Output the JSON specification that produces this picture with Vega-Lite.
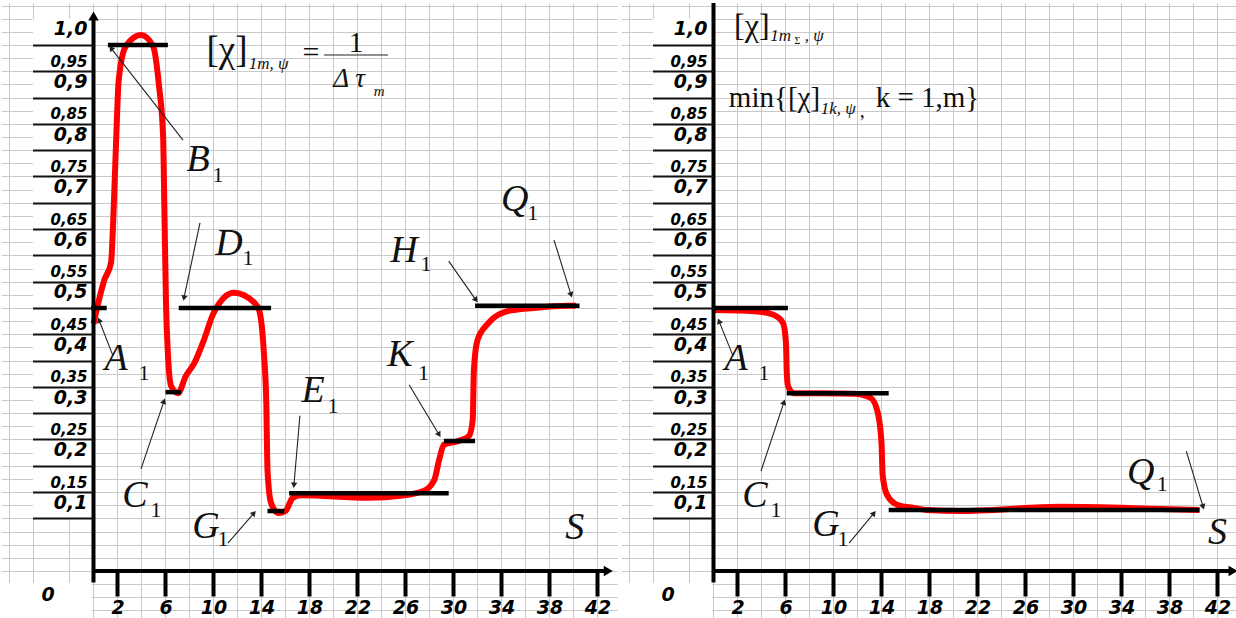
{
"$schema": "https://vega.github.io/schema/vega-lite/v6.json",
"background": "white",
"padding": 0,
"spacing": 4,
"bounds": "flush",
"config": {"view": {"stroke": null}},
"datasets": {
"curve": [
{"p":"L","x":0,"y":0.47},{"p":"L","x":0.9,"y":0.553},{"p":"L","x":1.46,"y":0.586},{"p":"L","x":1.7,"y":0.7},{"p":"L","x":1.9,"y":0.827},{"p":"L","x":2.1,"y":0.933},{"p":"L","x":2.7,"y":0.998},{"p":"L","x":3.96,"y":1.019},{"p":"L","x":4.96,"y":0.998},{"p":"L","x":5.46,"y":0.922},{"p":"L","x":5.8,"y":0.827},{"p":"L","x":5.9,"y":0.7},{"p":"L","x":6.04,"y":0.51},{"p":"L","x":6.2,"y":0.414},{"p":"L","x":6.46,"y":0.352},{"p":"L","x":7.04,"y":0.338},{"p":"L","x":7.7,"y":0.371},{"p":"L","x":8.4,"y":0.395},{"p":"L","x":9.2,"y":0.439},{"p":"L","x":10.0,"y":0.49},{"p":"L","x":11.7,"y":0.529},{"p":"L","x":13.4,"y":0.51},{"p":"L","x":13.8,"y":0.496},{"p":"L","x":14.2,"y":0.414},{"p":"L","x":14.4,"y":0.319},{"p":"L","x":14.5,"y":0.192},{"p":"L","x":14.8,"y":0.129},{"p":"L","x":15.4,"y":0.11},{"p":"L","x":16.0,"y":0.114},{"p":"L","x":16.6,"y":0.139},{"p":"L","x":17.3,"y":0.144},{"p":"L","x":22.9,"y":0.139},{"p":"L","x":25.6,"y":0.143},{"p":"L","x":27.5,"y":0.152},{"p":"L","x":28.4,"y":0.173},{"p":"L","x":28.8,"y":0.211},{"p":"L","x":29.2,"y":0.24},{"p":"L","x":30.4,"y":0.247},{"p":"L","x":31.3,"y":0.257},{"p":"L","x":31.6,"y":0.287},{"p":"L","x":31.7,"y":0.382},{"p":"L","x":32.0,"y":0.439},{"p":"L","x":32.9,"y":0.471},{"p":"L","x":34.5,"y":0.494},{"p":"L","x":36.7,"y":0.5},{"p":"L","x":39.5,"y":0.504},{"p":"L","x":40.2,"y":0.504},
{"p":"R","x":0,"y":0.496},{"p":"R","x":3.4,"y":0.494},{"p":"R","x":5.0,"y":0.487},{"p":"R","x":5.8,"y":0.471},{"p":"R","x":6.04,"y":0.433},{"p":"R","x":6.1,"y":0.382},{"p":"R","x":6.2,"y":0.352},{"p":"R","x":6.7,"y":0.338},{"p":"R","x":8.96,"y":0.338},{"p":"R","x":11.7,"y":0.337},{"p":"R","x":13.1,"y":0.329},{"p":"R","x":13.7,"y":0.3},{"p":"R","x":14.0,"y":0.243},{"p":"R","x":14.1,"y":0.181},{"p":"R","x":14.5,"y":0.143},{"p":"R","x":15.4,"y":0.125},{"p":"R","x":16.7,"y":0.12},{"p":"R","x":17.8,"y":0.116},{"p":"R","x":20.5,"y":0.114},{"p":"R","x":28.9,"y":0.122},{"p":"R","x":37.2,"y":0.118},{"p":"R","x":40.5,"y":0.116}
],
"seg": [
{"p":"L","x":-0.2,"x2":1.1,"y":0.5},{"p":"L","x":1.2,"x2":6.2,"y":1.0},{"p":"L","x":6.0,"x2":7.3,"y":0.34},{"p":"L","x":7.1,"x2":14.8,"y":0.5},{"p":"L","x":14.5,"x2":15.9,"y":0.114},{"p":"L","x":16.3,"x2":29.6,"y":0.148},{"p":"L","x":29.2,"x2":31.8,"y":0.247},{"p":"L","x":31.8,"x2":40.5,"y":0.504},
{"p":"R","x":0,"x2":6.2,"y":0.5},{"p":"R","x":6.1,"x2":14.6,"y":0.338},{"p":"R","x":14.6,"x2":40.5,"y":0.116}
],
"ax": [
{"p":"L","x":0,"y":-0.022,"x2":0,"y2":1.055,"head":true},{"p":"L","x":0,"y":0,"x2":42.9,"y2":0,"head":true},
{"p":"R","x":0,"y":-0.022,"x2":0,"y2":1.08,"head":false},{"p":"R","x":0,"y":0,"x2":43.3,"y2":0,"head":true}
],
"thin": [
{"p":"L","x":7.46,"y":0.819,"x2":1.46,"y2":0.994,"head":true},{"p":"L","x":8.875,"y":0.662,"x2":7.54,"y2":0.519,"head":true},{"p":"L","x":1.625,"y":0.409,"x2":0.46,"y2":0.477,"head":true},{"p":"L","x":3.96,"y":0.194,"x2":5.875,"y2":0.323,"head":true},{"p":"L","x":11.2,"y":0.053,"x2":13.375,"y2":0.11,"head":true},{"p":"L","x":17.2,"y":0.295,"x2":16.7,"y2":0.163,"head":true},{"p":"L","x":26.3,"y":0.354,"x2":28.8,"y2":0.259,"head":true},{"p":"L","x":29.6,"y":0.589,"x2":31.875,"y2":0.515,"head":true},{"p":"L","x":38.375,"y":0.629,"x2":39.8,"y2":0.525,"head":true},{"p":"L","x":19.2,"y":0.981,"x2":24.54,"y2":0.981,"head":false},
{"p":"R","x":1.625,"y":0.409,"x2":0.46,"y2":0.475,"head":true},{"p":"R","x":3.96,"y":0.19,"x2":5.875,"y2":0.321,"head":true},{"p":"R","x":11.3,"y":0.053,"x2":13.375,"y2":0.11,"head":true},{"p":"R","x":39.4,"y":0.228,"x2":40.8,"y2":0.122,"head":true}
],
"cells": [
{"p":"L","x":-5.05,"x2":-0.12,"y":0.1,"y2":1.05},{"p":"L","x":-7.71,"x2":-0.12,"y":-0.089,"y2":-0.023},
{"p":"R","x":-5.05,"x2":-0.12,"y":0.1,"y2":1.05},{"p":"R","x":-7.71,"x2":-0.12,"y":-0.089,"y2":-0.023}
],
"lbl": [
{"p":"L","t":"B","k":"L","x":8.71,"y":0.781},{"p":"L","t":"1","k":"N","x":10.375,"y":0.753},
{"p":"L","t":"D","k":"L","x":11.29,"y":0.622},{"p":"L","t":"1","k":"N","x":12.875,"y":0.595},
{"p":"L","t":"A","k":"L","x":1.875,"y":0.403},{"p":"L","t":"1","k":"N","x":4.21,"y":0.376},
{"p":"L","t":"C","k":"L","x":3.46,"y":0.143},{"p":"L","t":"1","k":"N","x":5.2,"y":0.116},
{"p":"L","t":"G","k":"L","x":9.375,"y":0.084},{"p":"L","t":"1","k":"N","x":10.8,"y":0.061},
{"p":"L","t":"E","k":"L","x":18.3,"y":0.342},{"p":"L","t":"1","k":"N","x":19.96,"y":0.314},
{"p":"L","t":"K","k":"L","x":25.54,"y":0.411},{"p":"L","t":"1","k":"N","x":27.5,"y":0.376},
{"p":"L","t":"H","k":"L","x":25.875,"y":0.608},{"p":"L","t":"1","k":"N","x":27.7,"y":0.584},
{"p":"L","t":"Q","k":"L","x":35.1,"y":0.705},{"p":"L","t":"1","k":"N","x":36.6,"y":0.681},
{"p":"L","t":"S","k":"L","x":40.1,"y":0.082},
{"p":"R","t":"A","k":"L","x":1.875,"y":0.403},{"p":"R","t":"1","k":"N","x":4.21,"y":0.376},
{"p":"R","t":"C","k":"L","x":3.46,"y":0.143},{"p":"R","t":"1","k":"N","x":5.2,"y":0.116},
{"p":"R","t":"G","k":"L","x":9.375,"y":0.087},{"p":"R","t":"1","k":"N","x":10.8,"y":0.061},
{"p":"R","t":"Q","k":"L","x":35.6,"y":0.186},{"p":"R","t":"1","k":"N","x":37.4,"y":0.165},
{"p":"R","t":"S","k":"L","x":42.0,"y":0.072}
],
"fn": [
{"p":"L","t":"[χ]","r":"br","x":11.13,"y":0.988},{"p":"L","t":"=","r":"eq","x":18.125,"y":0.985},{"p":"L","t":"1","r":"one","x":21.875,"y":1.004},
{"p":"R","t":"[χ]","r":"br2","x":3.19,"y":1.036},{"p":"R","t":"Σ","r":"tiny","x":7.0,"y":1.008},{"p":"R","t":"min{[χ]","r":"min","x":5.08,"y":0.899},{"p":"R","t":"k = 1,m}","r":"min","x":17.83,"y":0.899},{"p":"R","t":",","r":"cm","x":12.4,"y":0.875}
],
"fi": [
{"p":"L","t":"1m, ψ","r":"sub","x":14.6,"y":0.964},{"p":"L","t":"Δ τ","r":"dt","x":21.3,"y":0.935},{"p":"L","t":"m","r":"sm","x":23.8,"y":0.912},
{"p":"R","t":"1m","r":"sub","x":5.6,"y":1.017},{"p":"R","t":", ψ","r":"sub","x":8.4,"y":1.017},{"p":"R","t":"1k, ψ","r":"sub","x":10.4,"y":0.878}
],
"zero": [
{"p":"L","t":"0","x":-3.79,"y":-0.0456},{"p":"R","t":"0","x":-3.79,"y":-0.0456}
]
},
"hconcat": [
{
"width": 616, "height": 618,
"resolve": {"axis": {"x": "independent", "y": "independent"}},
"layer": [
{"data": {"name": "cells"}, "transform": [{"filter": "datum.p == 'L'"}],
 "mark": {"type": "rect", "color": "white"},
 "encoding": {
  "x": {"field": "x", "type": "quantitative", "scale": {"domain": [-7.708, 43.625], "nice": false, "zero": false},
   "axis": {"orient": "bottom", "grid": true, "gridColor": "#c9c9c9", "gridWidth": 1, "domain": false, "ticks": false, "labels": false, "title": null, "zindex": 0, "values": [-7,-5,-2,0,2,4,6,8,10,12,14,16,18,20,22,24,26,28,30,32,34,36,38,40,42]}},
  "x2": {"field": "x2"},
  "y": {"field": "y", "type": "quantitative", "scale": {"domain": [-0.0951, 1.0798], "nice": false, "zero": false},
   "axis": {"orient": "left", "grid": true, "gridColor": "#c9c9c9", "gridWidth": 1, "domain": false, "ticks": false, "labels": false, "title": null, "zindex": 0, "values": [-0.075,-0.05,-0.025,0,0.025,0.05,0.075,0.1,0.125,0.15,0.175,0.2,0.225,0.25,0.275,0.3,0.325,0.35,0.375,0.4,0.425,0.45,0.475,0.5,0.525,0.55,0.575,0.6,0.625,0.65,0.675,0.7,0.725,0.75,0.775,0.8,0.825,0.85,0.875,0.9,0.925,0.95,0.975,1,1.025,1.05,1.075]}},
  "y2": {"field": "y2"}}},
{"data": {"name": "curve"}, "transform": [{"filter": "datum.p == 'L'"}],
 "mark": {"type": "line", "color": "#ff0000", "strokeWidth": 6, "interpolate": "monotone"},
 "encoding": {
  "x": {"field": "x", "type": "quantitative",
   "axis": {"orient": "bottom", "offset": -50, "grid": false, "domain": false, "values": [2,6,10,14,18,22,26,30,34,38,42], "format": "d", "tickSize": 25, "tickWidth": 4, "tickColor": "#000", "labelFont": "DejaVu Sans", "labelFontSize": 19, "labelFontWeight": "bold", "labelFontStyle": "italic", "labelColor": "#000", "labelPadding": 2, "labelFlush": false, "labelOverlap": false, "title": null, "zindex": 1}},
  "y": {"field": "y", "type": "quantitative",
   "axis": {"orient": "left", "offset": -92.5, "grid": false, "domain": false, "values": [0.1,0.15,0.2,0.25,0.3,0.35,0.4,0.45,0.5,0.55,0.6,0.65,0.7,0.75,0.8,0.85,0.9,0.95,1], "tickSize": 61, "tickWidth": 2, "tickColor": "#111", "labelFont": "DejaVu Sans", "labelFontWeight": "bold", "labelFontStyle": "italic", "labelColor": "#000", "labelFontSize": {"condition": {"test": "round(datum.value*20) % 2 == 0", "value": 19}, "value": 15}, "labelOffset": {"condition": {"test": "round(datum.value*20) % 2 == 0", "value": -10}, "value": -5}, "labelPadding": -54.5, "labelAlign": "right", "labelBaseline": "alphabetic", "labelExpr": "datum.value == 1 ? '1,0' : replace(format(datum.value, '.2~f'), '.', ',')", "labelFlush": false, "labelOverlap": false, "title": null, "zindex": 1}}}},
{"data": {"name": "seg"}, "transform": [{"filter": "datum.p == 'L'"}],
 "mark": {"type": "rule", "color": "#000", "strokeWidth": 4.5},
 "encoding": {"x": {"field": "x", "type": "quantitative", "axis": null}, "x2": {"field": "x2"}, "y": {"field": "y", "type": "quantitative", "axis": null}}},
{"data": {"name": "ax"}, "transform": [{"filter": "datum.p == 'L'"}],
 "mark": {"type": "rule", "color": "#000", "strokeWidth": 4},
 "encoding": {"x": {"field": "x", "type": "quantitative", "axis": null}, "x2": {"field": "x2"}, "y": {"field": "y", "type": "quantitative", "axis": null}, "y2": {"field": "y2"}}},
{"data": {"name": "ax"}, "transform": [{"filter": "datum.p == 'L' && datum.head"}, {"calculate": "(atan2((datum.x2-datum.x)*12, (datum.y2-datum.y)*526)*180/PI + 360) % 360", "as": "ang"}],
 "mark": {"type": "point", "shape": "triangle-up", "filled": true, "color": "#000", "size": 110, "opacity": 1},
 "encoding": {"x": {"field": "x2", "type": "quantitative", "axis": null}, "y": {"field": "y2", "type": "quantitative", "axis": null}, "angle": {"field": "ang", "type": "quantitative", "scale": {"domain": [0, 360], "range": [0, 360]}}}},
{"data": {"name": "thin"}, "transform": [{"filter": "datum.p == 'L'"}],
 "mark": {"type": "rule", "color": "#222", "strokeWidth": 1.1},
 "encoding": {"x": {"field": "x", "type": "quantitative", "axis": null}, "x2": {"field": "x2"}, "y": {"field": "y", "type": "quantitative", "axis": null}, "y2": {"field": "y2"}}},
{"data": {"name": "thin"}, "transform": [{"filter": "datum.p == 'L' && datum.head"}, {"calculate": "(atan2((datum.x2-datum.x)*12, (datum.y2-datum.y)*526)*180/PI + 360) % 360", "as": "ang"}],
 "mark": {"type": "point", "shape": "triangle-up", "filled": true, "color": "#222", "size": 40, "opacity": 1},
 "encoding": {"x": {"field": "x2", "type": "quantitative", "axis": null}, "y": {"field": "y2", "type": "quantitative", "axis": null}, "angle": {"field": "ang", "type": "quantitative", "scale": {"domain": [0, 360], "range": [0, 360]}}}},
{"data": {"name": "lbl"}, "transform": [{"filter": "datum.p == 'L' && datum.k == 'L'"}],
 "mark": {"type": "text", "font": "Liberation Serif", "fontStyle": "italic", "fontSize": 38, "color": "#111", "baseline": "middle", "align": "center"},
 "encoding": {"x": {"field": "x", "type": "quantitative", "axis": null}, "y": {"field": "y", "type": "quantitative", "axis": null}, "text": {"field": "t"}}},
{"data": {"name": "lbl"}, "transform": [{"filter": "datum.p == 'L' && datum.k == 'N'"}],
 "mark": {"type": "text", "font": "Liberation Serif", "fontSize": 22, "color": "#111", "baseline": "middle", "align": "center"},
 "encoding": {"x": {"field": "x", "type": "quantitative", "axis": null}, "y": {"field": "y", "type": "quantitative", "axis": null}, "text": {"field": "t"}}},
{"data": {"name": "fn"}, "transform": [{"filter": "datum.p == 'L'"}],
 "mark": {"type": "text", "font": "Liberation Serif", "color": "#111", "baseline": "middle", "align": "center",
  "fontSize": {"expr": "datum.r == 'br' ? 37 : datum.r == 'br2' ? 32 : datum.r == 'eq' ? 30 : datum.r == 'one' ? 29 : datum.r == 'tiny' ? 10 : datum.r == 'min' ? 29 : 20"}},
 "encoding": {"x": {"field": "x", "type": "quantitative", "axis": null}, "y": {"field": "y", "type": "quantitative", "axis": null}, "text": {"field": "t"}}},
{"data": {"name": "fi"}, "transform": [{"filter": "datum.p == 'L'"}],
 "mark": {"type": "text", "font": "Liberation Serif", "fontStyle": "italic", "color": "#111", "baseline": "middle", "align": "center",
  "fontSize": {"expr": "datum.r == 'dt' ? 27 : datum.r == 'sm' ? 15 : 17"}},
 "encoding": {"x": {"field": "x", "type": "quantitative", "axis": null}, "y": {"field": "y", "type": "quantitative", "axis": null}, "text": {"field": "t"}}},
{"data": {"name": "zero"}, "transform": [{"filter": "datum.p == 'L'"}],
 "mark": {"type": "text", "font": "DejaVu Sans", "fontWeight": "bold", "fontStyle": "italic", "fontSize": 19, "color": "#000", "baseline": "middle", "align": "center"},
 "encoding": {"x": {"field": "x", "type": "quantitative", "axis": null}, "y": {"field": "y", "type": "quantitative", "axis": null}, "text": {"field": "t"}}}
]
},
{
"width": 616, "height": 618,
"resolve": {"axis": {"x": "independent", "y": "independent"}},
"layer": [
{"data": {"name": "cells"}, "transform": [{"filter": "datum.p == 'R'"}],
 "mark": {"type": "rect", "color": "white"},
 "encoding": {
  "x": {"field": "x", "type": "quantitative", "scale": {"domain": [-7.708, 43.625], "nice": false, "zero": false},
   "axis": {"orient": "bottom", "grid": true, "gridColor": "#c9c9c9", "gridWidth": 1, "domain": false, "ticks": false, "labels": false, "title": null, "zindex": 0, "values": [-7,-5,-2,0,2,4,6,8,10,12,14,16,18,20,22,24,26,28,30,32,34,36,38,40,42]}},
  "x2": {"field": "x2"},
  "y": {"field": "y", "type": "quantitative", "scale": {"domain": [-0.0951, 1.0798], "nice": false, "zero": false},
   "axis": {"orient": "left", "grid": true, "gridColor": "#c9c9c9", "gridWidth": 1, "domain": false, "ticks": false, "labels": false, "title": null, "zindex": 0, "values": [-0.075,-0.05,-0.025,0,0.025,0.05,0.075,0.1,0.125,0.15,0.175,0.2,0.225,0.25,0.275,0.3,0.325,0.35,0.375,0.4,0.425,0.45,0.475,0.5,0.525,0.55,0.575,0.6,0.625,0.65,0.675,0.7,0.725,0.75,0.775,0.8,0.825,0.85,0.875,0.9,0.925,0.95,0.975,1,1.025,1.05,1.075]}},
  "y2": {"field": "y2"}}},
{"data": {"name": "curve"}, "transform": [{"filter": "datum.p == 'R'"}],
 "mark": {"type": "line", "color": "#ff0000", "strokeWidth": 6, "interpolate": "monotone"},
 "encoding": {
  "x": {"field": "x", "type": "quantitative",
   "axis": {"orient": "bottom", "offset": -50, "grid": false, "domain": false, "values": [2,6,10,14,18,22,26,30,34,38,42], "format": "d", "tickSize": 25, "tickWidth": 4, "tickColor": "#000", "labelFont": "DejaVu Sans", "labelFontSize": 19, "labelFontWeight": "bold", "labelFontStyle": "italic", "labelColor": "#000", "labelPadding": 2, "labelFlush": false, "labelOverlap": false, "title": null, "zindex": 1}},
  "y": {"field": "y", "type": "quantitative",
   "axis": {"orient": "left", "offset": -92.5, "grid": false, "domain": false, "values": [0.1,0.15,0.2,0.25,0.3,0.35,0.4,0.45,0.5,0.55,0.6,0.65,0.7,0.75,0.8,0.85,0.9,0.95,1], "tickSize": 61, "tickWidth": 2, "tickColor": "#111", "labelFont": "DejaVu Sans", "labelFontWeight": "bold", "labelFontStyle": "italic", "labelColor": "#000", "labelFontSize": {"condition": {"test": "round(datum.value*20) % 2 == 0", "value": 19}, "value": 15}, "labelOffset": {"condition": {"test": "round(datum.value*20) % 2 == 0", "value": -10}, "value": -5}, "labelPadding": -54.5, "labelAlign": "right", "labelBaseline": "alphabetic", "labelExpr": "datum.value == 1 ? '1,0' : replace(format(datum.value, '.2~f'), '.', ',')", "labelFlush": false, "labelOverlap": false, "title": null, "zindex": 1}}}},
{"data": {"name": "seg"}, "transform": [{"filter": "datum.p == 'R'"}],
 "mark": {"type": "rule", "color": "#000", "strokeWidth": 4.5},
 "encoding": {"x": {"field": "x", "type": "quantitative", "axis": null}, "x2": {"field": "x2"}, "y": {"field": "y", "type": "quantitative", "axis": null}}},
{"data": {"name": "ax"}, "transform": [{"filter": "datum.p == 'R'"}],
 "mark": {"type": "rule", "color": "#000", "strokeWidth": 4},
 "encoding": {"x": {"field": "x", "type": "quantitative", "axis": null}, "x2": {"field": "x2"}, "y": {"field": "y", "type": "quantitative", "axis": null}, "y2": {"field": "y2"}}},
{"data": {"name": "ax"}, "transform": [{"filter": "datum.p == 'R' && datum.head"}, {"calculate": "(atan2((datum.x2-datum.x)*12, (datum.y2-datum.y)*526)*180/PI + 360) % 360", "as": "ang"}],
 "mark": {"type": "point", "shape": "triangle-up", "filled": true, "color": "#000", "size": 110, "opacity": 1},
 "encoding": {"x": {"field": "x2", "type": "quantitative", "axis": null}, "y": {"field": "y2", "type": "quantitative", "axis": null}, "angle": {"field": "ang", "type": "quantitative", "scale": {"domain": [0, 360], "range": [0, 360]}}}},
{"data": {"name": "thin"}, "transform": [{"filter": "datum.p == 'R'"}],
 "mark": {"type": "rule", "color": "#222", "strokeWidth": 1.1},
 "encoding": {"x": {"field": "x", "type": "quantitative", "axis": null}, "x2": {"field": "x2"}, "y": {"field": "y", "type": "quantitative", "axis": null}, "y2": {"field": "y2"}}},
{"data": {"name": "thin"}, "transform": [{"filter": "datum.p == 'R' && datum.head"}, {"calculate": "(atan2((datum.x2-datum.x)*12, (datum.y2-datum.y)*526)*180/PI + 360) % 360", "as": "ang"}],
 "mark": {"type": "point", "shape": "triangle-up", "filled": true, "color": "#222", "size": 40, "opacity": 1},
 "encoding": {"x": {"field": "x2", "type": "quantitative", "axis": null}, "y": {"field": "y2", "type": "quantitative", "axis": null}, "angle": {"field": "ang", "type": "quantitative", "scale": {"domain": [0, 360], "range": [0, 360]}}}},
{"data": {"name": "lbl"}, "transform": [{"filter": "datum.p == 'R' && datum.k == 'L'"}],
 "mark": {"type": "text", "font": "Liberation Serif", "fontStyle": "italic", "fontSize": 38, "color": "#111", "baseline": "middle", "align": "center"},
 "encoding": {"x": {"field": "x", "type": "quantitative", "axis": null}, "y": {"field": "y", "type": "quantitative", "axis": null}, "text": {"field": "t"}}},
{"data": {"name": "lbl"}, "transform": [{"filter": "datum.p == 'R' && datum.k == 'N'"}],
 "mark": {"type": "text", "font": "Liberation Serif", "fontSize": 22, "color": "#111", "baseline": "middle", "align": "center"},
 "encoding": {"x": {"field": "x", "type": "quantitative", "axis": null}, "y": {"field": "y", "type": "quantitative", "axis": null}, "text": {"field": "t"}}},
{"data": {"name": "fn"}, "transform": [{"filter": "datum.p == 'R'"}],
 "mark": {"type": "text", "font": "Liberation Serif", "color": "#111", "baseline": "middle", "align": "center",
  "fontSize": {"expr": "datum.r == 'br' ? 37 : datum.r == 'br2' ? 32 : datum.r == 'eq' ? 30 : datum.r == 'one' ? 29 : datum.r == 'tiny' ? 10 : datum.r == 'min' ? 29 : 20"}},
 "encoding": {"x": {"field": "x", "type": "quantitative", "axis": null}, "y": {"field": "y", "type": "quantitative", "axis": null}, "text": {"field": "t"}}},
{"data": {"name": "fi"}, "transform": [{"filter": "datum.p == 'R'"}],
 "mark": {"type": "text", "font": "Liberation Serif", "fontStyle": "italic", "color": "#111", "baseline": "middle", "align": "center",
  "fontSize": {"expr": "datum.r == 'dt' ? 27 : datum.r == 'sm' ? 15 : 17"}},
 "encoding": {"x": {"field": "x", "type": "quantitative", "axis": null}, "y": {"field": "y", "type": "quantitative", "axis": null}, "text": {"field": "t"}}},
{"data": {"name": "zero"}, "transform": [{"filter": "datum.p == 'R'"}],
 "mark": {"type": "text", "font": "DejaVu Sans", "fontWeight": "bold", "fontStyle": "italic", "fontSize": 19, "color": "#000", "baseline": "middle", "align": "center"},
 "encoding": {"x": {"field": "x", "type": "quantitative", "axis": null}, "y": {"field": "y", "type": "quantitative", "axis": null}, "text": {"field": "t"}}}
]
}
]
}
